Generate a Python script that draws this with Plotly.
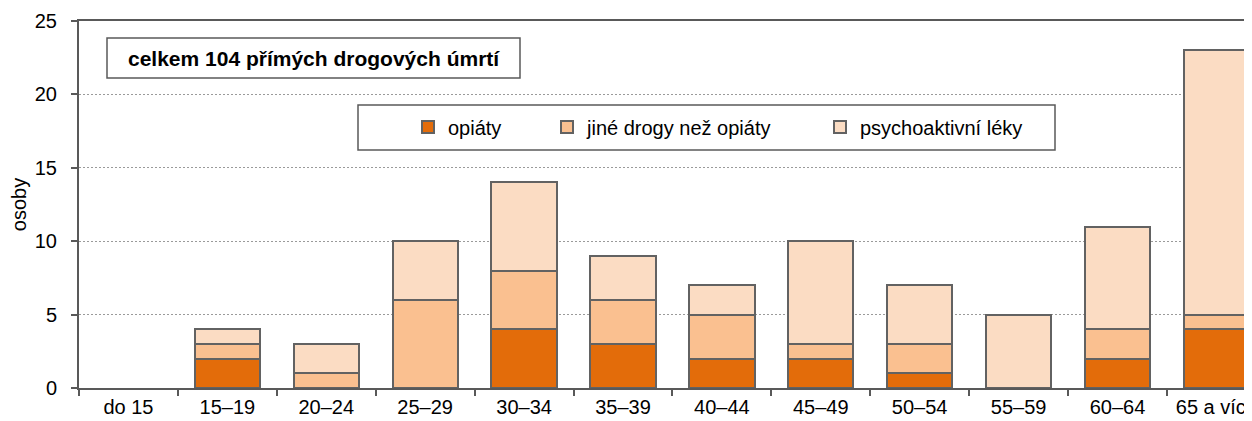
import plotly.graph_objects as go

categories = ["do 15", "15–19", "20–24", "25–29", "30–34", "35–39", "40–44",
              "45–49", "50–54", "55–59", "60–64", "65 a více"]
opiaty = [0, 2, 0, 0, 4, 3, 2, 2, 1, 0, 2, 4]
jine_drogy = [0, 1, 1, 6, 4, 3, 3, 1, 2, 0, 2, 1]
psychoaktivni = [0, 1, 2, 4, 6, 3, 2, 7, 4, 5, 7, 18]
series_names = ["opiáty", "jiné drogy než opiáty", "psychoaktivní léky"]
y_ticks = [0, 5, 10, 15, 20, 25]

colors = ["#E36C0A", "#FAC090", "#FBDCC3"]
line_col = "#626262"
axis_col = "#595959"
FONT = "Liberation Sans, Arial, sans-serif"

# The page body adds an 8 px offset; work in window coordinates and convert.
OFF = 8
W, H = 1252, 421
ml, mr, mt, mb = 79 - OFF, OFF, 21 - OFF, H - (388 - OFF)
pw, ph = W - ml - mr, H - mt - mb


def px(x):
    return (x - OFF - ml) / pw


def py(y):
    return (H - mb - (y - OFF)) / ph


legend_ids = ["legend", "legend2", "legend3"]
legend_x = [427, 566, 839]  # window x of legend symbol centres

fig = go.Figure()
for name, vals, col, lid in zip(series_names, [opiaty, jine_drogy, psychoaktivni], colors, legend_ids):
    fig.add_trace(go.Bar(
        x=categories, y=[v if v else None for v in vals], name=name,
        marker=dict(color=col, line=dict(color=line_col, width=2)),
        width=0.66, legend=lid,
    ))

legend_common = dict(
    orientation="h", xanchor="left", yanchor="middle", y=py(127),
    bgcolor="rgba(0,0,0,0)", borderwidth=0,
    font=dict(family=FONT, size=20, color="#000000"),
    itemwidth=30,
)

fig.update_layout(
    barmode="stack",
    width=W, height=H,
    margin=dict(l=ml, r=mr, t=mt, b=mb),
    paper_bgcolor="white", plot_bgcolor="white",
    font=dict(family=FONT, size=20, color="#000000"),
    showlegend=True,
    legend=dict(x=px(legend_x[0] - 19), **legend_common),
    legend2=dict(x=px(legend_x[1] - 19), **legend_common),
    legend3=dict(x=px(legend_x[2] - 19), **legend_common),
    xaxis=dict(
        range=[-0.5, 11.36],
        showline=True, linecolor=axis_col, linewidth=2, mirror=True,
        ticks="outside", tickson="boundaries", ticklen=6, tickcolor=axis_col, tickwidth=1.5,
        showgrid=False,
        tickfont=dict(family=FONT, size=20),
        automargin=False,
    ),
    yaxis=dict(
        range=[0, 25],
        tickvals=y_ticks,
        showline=True, linecolor=axis_col, linewidth=2,
        ticks="outside", ticklen=6, tickcolor=axis_col, tickwidth=1.5,
        showgrid=True, gridcolor="#9A9A9A", gridwidth=1, griddash="2px,2px",
        tickfont=dict(family=FONT, size=20),
        ticklabelstandoff=10,
        title=dict(text="osoby", font=dict(family=FONT, size=20), standoff=8),
        zeroline=False,
        automargin=False,
    ),
)

# annotation box
fig.add_shape(type="rect", xref="paper", yref="paper",
              x0=px(107), x1=px(520), y0=py(78), y1=py(38),
              line=dict(color=axis_col, width=1.5), fillcolor="white", layer="above")
fig.add_annotation(xref="paper", yref="paper", x=(px(107) + px(520)) / 2, y=(py(78) + py(38)) / 2,
                   text="<b>celkem 104 přímých drogových úmrtí</b>", showarrow=False,
                   font=dict(family=FONT, size=21, color="#000000"),
                   xanchor="center", yanchor="middle")
# legend box
fig.add_shape(type="rect", xref="paper", yref="paper",
              x0=px(358), x1=px(1055), y0=py(150), y1=py(105),
              line=dict(color=axis_col, width=1.5), fillcolor="white", layer="above")

fig.write_html("out.html")
